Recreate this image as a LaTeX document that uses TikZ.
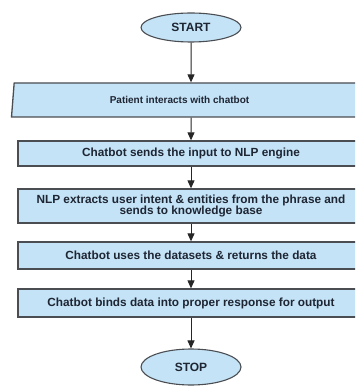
\documentclass[tikz,border=0pt]{standalone}
\usepackage{fontspec}
\setmainfont{Liberation Sans}
\usetikzlibrary{shapes.geometric,arrows.meta}
\definecolor{boxfill}{HTML}{C4E3F6}
\definecolor{boxline}{HTML}{4A4D52}
\definecolor{txt}{HTML}{1E2533}
\begin{document}
\begin{tikzpicture}[x=1pt,y=-1pt,
  base/.style={fill=boxfill,draw=boxline,line width=1.3pt,text=txt,inner sep=0pt,font=\bfseries\fontsize{11.8}{11.5}\selectfont},
  term/.style={base,ellipse,minimum width=100pt,line width=1.1pt,font=\bfseries\fontsize{12}{12}\selectfont},
  procbox/.style={base,rectangle,minimum width=346pt,align=center},
  iobox/.style={base,trapezium,trapezium left angle=70,trapezium right angle=110,trapezium stretches body,minimum width=359pt,minimum height=34pt,font=\bfseries\fontsize{10}{10}\selectfont},
  flow/.style={draw=black!85,line width=1pt,-{Triangle[length=8pt,width=7pt]}}]
\useasboundingbox (0,0) rectangle (355,387);
\clip (0,0) rectangle (355,387);
\fill[white] (0,0) rectangle (355,387);
\node[term,minimum height=29pt] (start) at (191,27.5) {START};
\node[iobox] (inp) at (191,100) {\hspace*{-23pt}Patient interacts with chatbot};
\node[procbox,minimum height=25pt] (b1) at (191,153.5) {Chatbot sends the input to NLP engine};
\node[procbox,minimum height=34pt] (b2) at (191,206) {NLP extracts user intent \& entities from the phrase and\\sends to knowledge base};
\node[procbox,minimum height=27pt] (b3) at (191,255.5) {Chatbot uses the datasets \& returns the data};
\node[procbox,minimum height=28pt] (b4) at (191,303) {Chatbot binds data into proper response for output};
\node[term,minimum height=36pt] (stop) at (191,367) {STOP};
\draw[flow] (start) -- (inp);
\draw[flow] (inp) -- (b1);
\draw[flow] (b1) -- (b2);
\draw[flow] (b2) -- (b3);
\draw[flow] (b3) -- (b4);
\draw[flow] (b4) -- (stop);
\end{tikzpicture}
\end{document}
